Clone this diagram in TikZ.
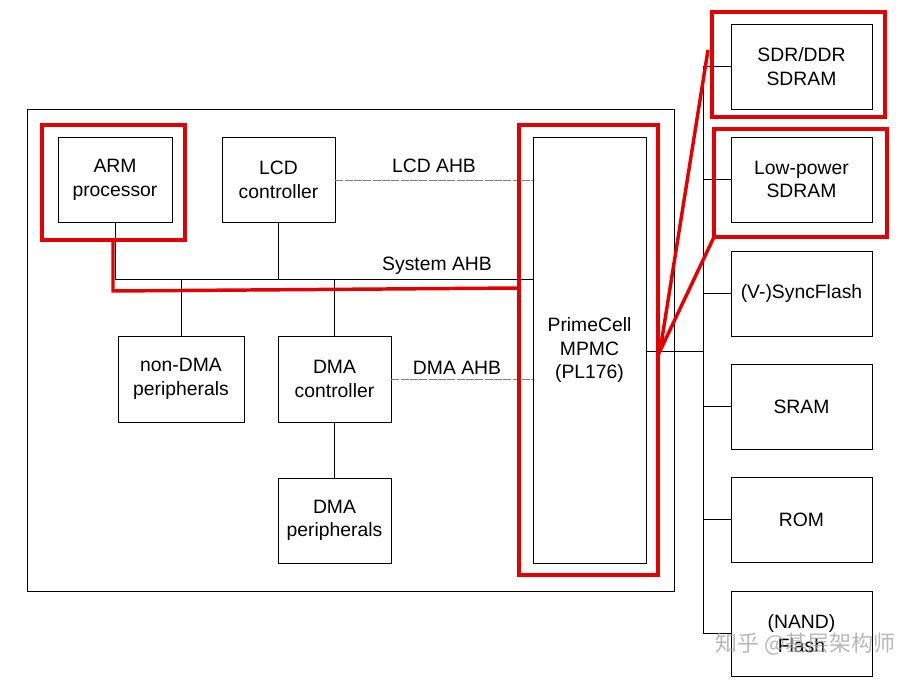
\documentclass[tikz,border=0pt]{standalone}
\usepackage{fontspec}
\setmainfont{Liberation Sans}
\newfontfamily\cjk{Noto Sans CJK SC}
\begin{document}
\begin{tikzpicture}[x=0.75pt,y=-0.75pt,
  box/.style={draw=black,line width=0.6pt,align=center,font=\fontsize{14.5}{17.5}\selectfont},
  ln/.style={draw=black,line width=0.5pt},
  dl/.style={draw=gray,line width=0.5pt,dash pattern=on 6pt off 1pt},
  red/.style={draw=red!90!black,line width=2.6pt},
  lbl/.style={font=\fontsize{14.5}{17.5}\selectfont}]
\useasboundingbox (0,0) rectangle (922,681);
\node[draw,ln,minimum width=647*0.75pt,minimum height=482*0.75pt,inner sep=0] (outer) at (350.5,350) {};
\node[box,minimum width=114*0.75pt,minimum height=85*0.75pt] (arm) at (115,180) {ARM\\processor};
\node[box,minimum width=113*0.75pt,minimum height=85*0.75pt] (lcd) at (278.5,180) {LCD\\controller};
\node[box,minimum width=113*0.75pt,minimum height=426*0.75pt] (mpmc) at (589.5,350) {PrimeCell\\MPMC\\(PL176)};
\node[box,minimum width=126*0.75pt,minimum height=86*0.75pt] (ndma) at (181,379) {non-DMA\\peripherals};
\node[box,minimum width=113*0.75pt,minimum height=86*0.75pt] (dmac) at (334.5,379) {DMA\\controller};
\node[box,minimum width=113*0.75pt,minimum height=85*0.75pt] (dmap) at (334.5,520.5) {DMA\\peripherals};
\foreach \n/\y/\t in {sdr/66.5/{SDR/DDR\\SDRAM},lp/179.5/{Low-power\\SDRAM},sf/293.5/{(V-)SyncFlash},sram/406.5/{SRAM},rom/519.5/{ROM},nand/633.5/{(NAND)\\Flash}}
  \node[box,minimum width=141*0.75pt,minimum height=85*0.75pt] (\n) at (801.5,\y) {\t};
% system bus
\coordinate (b1) at (115,279); \coordinate (b2) at (533,279);
\draw[ln] (arm.south) -- (b1) -- (b2);
\draw[ln] (lcd.south) -- (278.5,279);
\draw[ln] (ndma.north) -- (181,279);
\draw[ln] (dmac.north) -- (334.5,279);
\draw[ln] (dmac.south) -- (dmap.north);
\draw[dl] (lcd.east) -- (mpmc.west |- lcd.east);
\draw[dl] (dmac.east) -- (mpmc.west |- dmac.east);
\node[lbl] at (434,166) {LCD AHB};
\node[lbl] at (437,266) {System AHB};
\node[lbl] at (457,368) {DMA AHB};
% memory bus
\coordinate (mb) at (703,351);
\draw[ln] (mpmc.east |- mb) -- (mb);
\draw[ln] (703,66.5) -- (703,633.5);
\foreach \n in {sdr,lp,sf,sram,rom,nand} \draw[ln] (\n.west) -- (\n.west -| mb);
% red highlights
\draw[red] (42,125) rectangle (185,240);
\draw[red] (519,125) rectangle (658,575);
\draw[red] (712,12) rectangle (885,117);
\draw[red] (714,129) rectangle (887,237);
\draw[red] (113,240) -- (113,291) -- (520,288);
\draw[red] (708,50) -- (660,351) -- (714,237);
\node[font=\cjk\fontsize{16.5}{19}\selectfont,text=gray!70,opacity=0.8,anchor=east] at (900,644) {知乎 @基层架构师};
\end{tikzpicture}
\end{document}
